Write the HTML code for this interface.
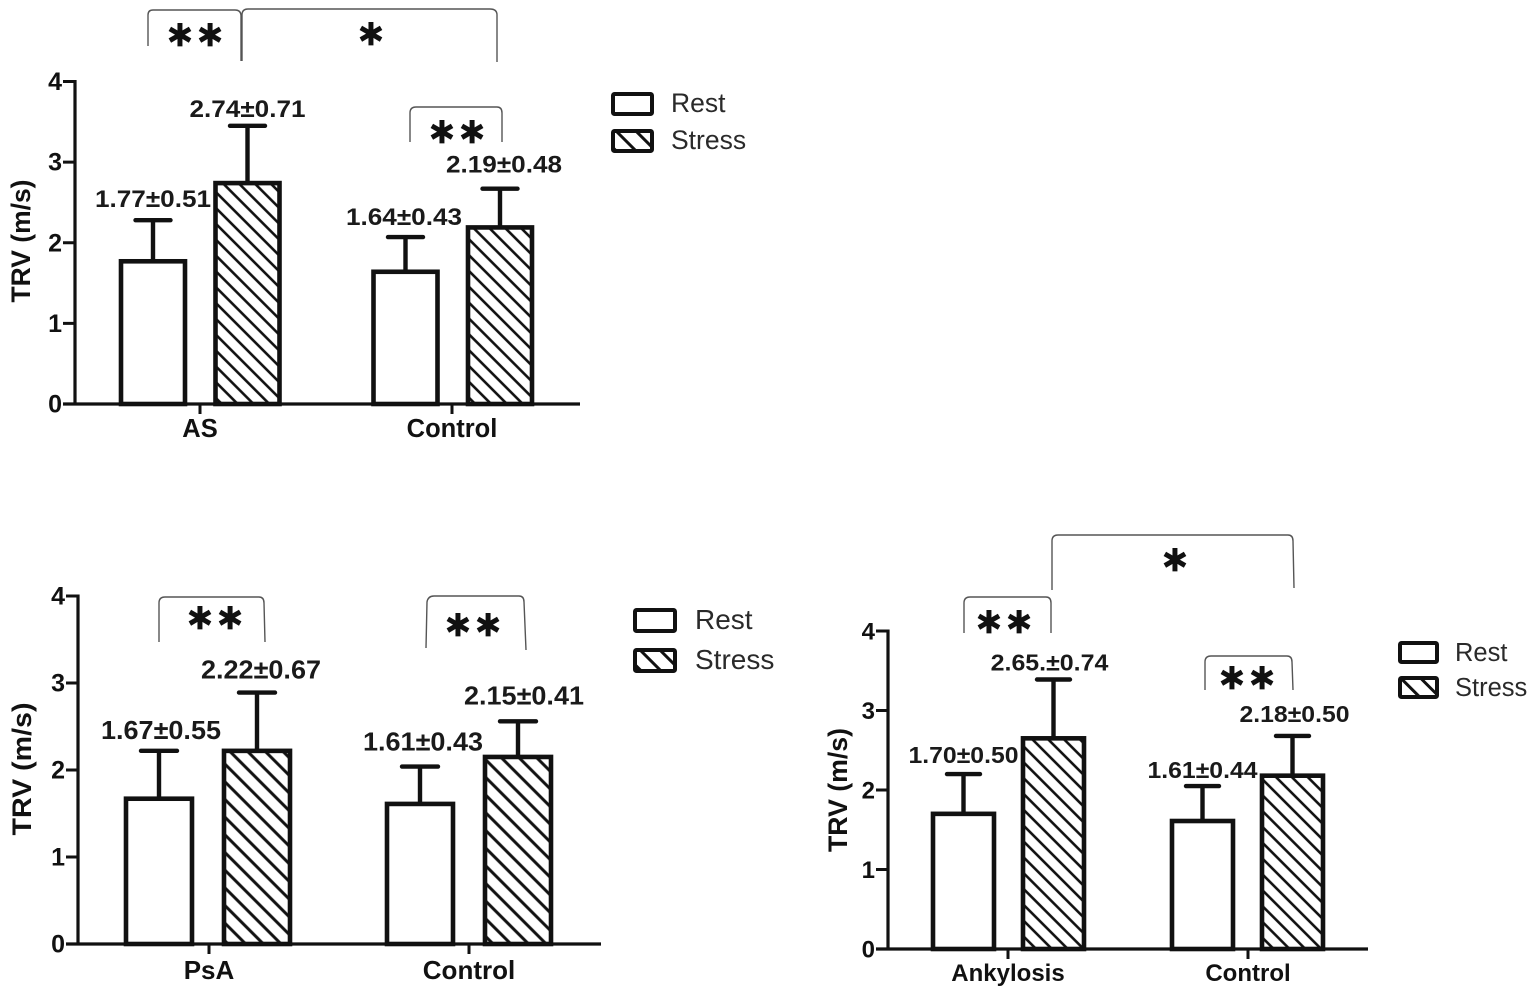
<!DOCTYPE html>
<html lang="en">
<head>
<meta charset="utf-8">
<title>TRV bar charts</title>
<style>
html,body{margin:0;padding:0;background:#fff;width:1535px;height:994px;overflow:hidden}
svg{display:block;filter:blur(0.35px)}
text{font-family:"Liberation Sans",sans-serif;fill:#111}
.tick{font-weight:700}
.axis-title{font-weight:700;font-size:27px}
.cat{font-weight:700}
.val{font-weight:700;fill:#1a1a1a}
.leg{fill:#2a2a2a}
.star{font-family:"DejaVu Sans",sans-serif;font-weight:700;font-size:36px;fill:#111;stroke:#111;stroke-width:0.8px}
</style>
</head>
<body>
<svg id="figure" xmlns="http://www.w3.org/2000/svg" width="1535" height="994" viewBox="0 0 1535 994">
<defs id="defs">
<pattern id="hatch-legend" patternUnits="userSpaceOnUse" width="14" height="14" patternTransform="rotate(45)">
<rect width="14" height="14" fill="#fff"/>
<line x1="0" y1="7" x2="14" y2="7" stroke="#111" stroke-width="3"/>
</pattern>
</defs>
<g id="root"></g>
</svg>
<script>
// ---- data ----
const seriesNames = ['Rest', 'Stress'];
const yTicks = [0, 1, 2, 3, 4];

const categoriesA = ['AS', 'Control'];
const restMeansA = [1.77, 1.64];
const stressMeansA = [2.74, 2.19];
const restSdA = [0.51, 0.43];
const stressSdA = [0.71, 0.48];
const restLabelsA = ['1.77±0.51', '1.64±0.43'];
const stressLabelsA = ['2.74±0.71', '2.19±0.48'];

const categoriesB = ['PsA', 'Control'];
const restMeansB = [1.67, 1.61];
const stressMeansB = [2.22, 2.15];
const restSdB = [0.55, 0.43];
const stressSdB = [0.67, 0.41];
const restLabelsB = ['1.67±0.55', '1.61±0.43'];
const stressLabelsB = ['2.22±0.67', '2.15±0.41'];

const categoriesC = ['Ankylosis', 'Control'];
const restMeansC = [1.70, 1.61];
const stressMeansC = [2.65, 2.18];
const restSdC = [0.50, 0.44];
const stressSdC = [0.74, 0.50];
const restLabelsC = ['1.70±0.50', '1.61±0.44'];
const stressLabelsC = ['2.65.±0.74', '2.18±0.50'];

// ---- layout ----
const charts = [
  {id:'as', cats:categoriesA, rest:restMeansA, stress:stressMeansA, restSd:restSdA, stressSd:stressSdA, restL:restLabelsA, stressL:stressLabelsA,
   axisX:75, y0:404, y4:81.5, axisEnd:580, start:153, groupStep:252.5, seriesStep:94.5, barW:64, capW:35, labelW:116, labelFs:24,
   hatchGap:11.2, hatchStroke:2.6,
   restOff:[[0,13],[-1.5,12]], stressOff:[[0,9],[4,16]], catX:[200,452], catBase:437, catFs:25.5, tickX:62, tickFs:25,
   title:{x:21,y:241,len:123},
   legend:{x:613,w:39,h:20,rows:[94,131],textX:671,bases:[112,149],fs:26.5},
   brackets:['M148 46V15Q148 10 153 10H235Q241 10 241 16V61','M242 61V15Q242 9 248 9H490Q497 9 497 15V62','M410 142V113Q410 107 416 107H497Q502 107 502 113V142'],
   stars:[['∗∗',195,46],['∗',371,45],['∗∗',457,143]]},
  {id:'psa', cats:categoriesB, rest:restMeansB, stress:stressMeansB, restSd:restSdB, stressSd:stressSdB, restL:restLabelsB, stressL:stressLabelsB,
   axisX:78, y0:944, y4:596, axisEnd:601, start:159, groupStep:261, seriesStep:98, barW:66, capW:36, labelW:120, labelFs:26,
   hatchGap:12.5, hatchStroke:3,
   restOff:[[2,12],[3,16]], stressOff:[[4,14],[6,17]], catX:[209,469], catBase:979, catFs:26, tickX:65, tickFs:25,
   title:{x:22,y:769,len:133},
   legend:{x:635,w:40,h:21,rows:[610,650],textX:695,bases:[629,669],fs:28},
   brackets:['M159 642V603Q159 597 165 597H259Q264 597 264 603L265 642','M426 648L427 602Q428 596 434 596H519Q524 596 524 602L526 650'],
   stars:[['∗∗',215,629],['∗∗',473,636]]},
  {id:'ankylosis', cats:categoriesC, rest:restMeansC, stress:stressMeansC, restSd:restSdC, stressSd:stressSdC, restL:restLabelsC, stressL:stressLabelsC,
   axisX:888, y0:949, y4:631, axisEnd:1368, start:963.5, groupStep:239, seriesStep:90, barW:61, capW:33, labelW:110, labelFs:23,
   hatchGap:11.2, hatchStroke:2.6,
   restOff:[[0,11],[0,8]], stressOff:[[-4,9],[2,14]], catX:[1008,1248], catBase:981, catFs:24, tickX:875, tickFs:24,
   title:{x:838,y:790,len:124},
   legend:{x:1400,w:37,h:19,rows:[643,678],textX:1455,bases:[661,696],fs:25.5},
   brackets:['M964 633V603Q964 597 970 597H1046Q1051 597 1051 603V633','M1052 590V541Q1052 535 1058 535H1288Q1293 535 1293 541L1294 588','M1205 690V662Q1205 656 1211 656H1287Q1292 656 1292 662L1293 690'],
   stars:[['∗∗',1004,633],['∗',1175,571],['∗∗',1247,689]]}
];

const NS = 'http://www.w3.org/2000/svg';
const root = document.getElementById('root');
const defs = document.getElementById('defs');
function mk(parent, tag, attrs, txt){
  const el = document.createElementNS(NS, tag);
  for (const k in attrs) el.setAttribute(k, attrs[k]);
  if (txt !== undefined) el.textContent = txt;
  parent.appendChild(el);
  return el;
}

charts.forEach(function(c){
  const g = mk(root, 'g', {});
  
  

  const hatchId = 'hatch-' + c.id;
  const pat = mk(defs, 'pattern', {id:hatchId, patternUnits:'userSpaceOnUse', width:c.hatchGap, height:c.hatchGap, patternTransform:'rotate(45)'});
  mk(pat, 'rect', {width:c.hatchGap, height:c.hatchGap, fill:'#fff'});
  mk(pat, 'line', {x1:0, y1:c.hatchGap / 2, x2:c.hatchGap, y2:c.hatchGap / 2, stroke:'#111', 'stroke-width':c.hatchStroke});

  const yScale = function(v){ return c.y0 - v * (c.y0 - c.y4) / 4; };
  const xScale = function(gi, si){ return c.start + gi * c.groupStep + si * c.seriesStep; };

  // bars, error bars, labels
  c.cats.forEach(function(cat, gi){
    [0, 1].forEach(function(si){
      const mean = (si ? c.stress : c.rest)[gi];
      const sd = (si ? c.stressSd : c.restSd)[gi];
      const label = (si ? c.stressL : c.restL)[gi];
      const off = (si ? c.stressOff : c.restOff)[gi];
      const cx = xScale(gi, si);
      const top = yScale(mean);
      const capY = yScale(mean + sd);

      const eb = mk(g, 'path', {d:'M' + cx + ' ' + top + 'V' + capY + 'M' + (cx - c.capW / 2) + ' ' + capY + 'H' + (cx + c.capW / 2), fill:'none', stroke:'#111', 'stroke-width':4.4, 'stroke-linecap':'round'});
      
      

      const bar = mk(g, 'rect', {x:cx - c.barW / 2, y:top, width:c.barW, height:c.y0 - top, fill:si ? 'url(#' + hatchId + ')' : '#fff', stroke:'#111', 'stroke-width':4.6});
      
      

      const t = mk(g, 'text', {class:'val', x:cx + off[0], y:capY - off[1], 'text-anchor':'middle', textLength:c.labelW * (label.length > 9 ? 1.07 : 1), lengthAdjust:'spacingAndGlyphs', style:'font-size:' + c.labelFs + 'px'}, label);
      
      
    });
  });

  // axes
  const yAxis = mk(g, 'line', {x1:c.axisX, y1:c.y4 - 1.5, x2:c.axisX, y2:c.y0 + 1.5, stroke:'#111', 'stroke-width':3.2});
  
  
  const xAxis = mk(g, 'line', {x1:c.axisX - 12, y1:c.y0, x2:c.axisEnd, y2:c.y0, stroke:'#111', 'stroke-width':3.2});
  
  

  yTicks.forEach(function(v){
    const y = yScale(v);
    const tk = mk(g, 'line', {x1:c.axisX - 12, y1:y, x2:c.axisX, y2:y, stroke:'#111', 'stroke-width':3});
    
    
    const tl = mk(g, 'text', {class:'tick', x:c.tickX, y:y + 8.5, 'text-anchor':'end', style:'font-size:' + c.tickFs + 'px'}, String(v));
    
    
  });

  c.cats.forEach(function(cat, gi){
    const tk = mk(g, 'line', {x1:c.catX[gi], y1:c.y0, x2:c.catX[gi], y2:c.y0 + 10, stroke:'#111', 'stroke-width':3});
    
    
    const tl = mk(g, 'text', {class:'cat', x:c.catX[gi], y:c.catBase, 'text-anchor':'middle', style:'font-size:' + c.catFs + 'px'}, cat);
    
    
  });

  const title = mk(g, 'text', {class:'axis-title', 'text-anchor':'middle', transform:'translate(' + (c.title.x + 9) + ' ' + c.title.y + ') rotate(-90)', textLength:c.title.len, lengthAdjust:'spacingAndGlyphs'}, 'TRV (m/s)');
  
  

  // legend
  seriesNames.forEach(function(name, si){
    const sw = mk(g, 'rect', {x:c.legend.x, y:c.legend.rows[si], width:c.legend.w, height:c.legend.h, rx:1.5, fill:si ? 'url(#hatch-legend)' : '#fff', stroke:'#111', 'stroke-width':4});
    
    
    const lt = mk(g, 'text', {class:'leg', x:c.legend.textX, y:c.legend.bases[si], style:'font-size:' + c.legend.fs + 'px'}, name);
    
    
  });

  // significance brackets
  c.brackets.forEach(function(d){
    const b = mk(g, 'path', {d:d, fill:'none', stroke:'#555', 'stroke-width':1.4});
    
    
  });
  c.stars.forEach(function(s){
    const st = mk(g, 'text', {class:'star', x:s[1], y:s[2], 'text-anchor':'middle'}, s[0]);
    
    
  });
});
</script>
</body>
</html>
